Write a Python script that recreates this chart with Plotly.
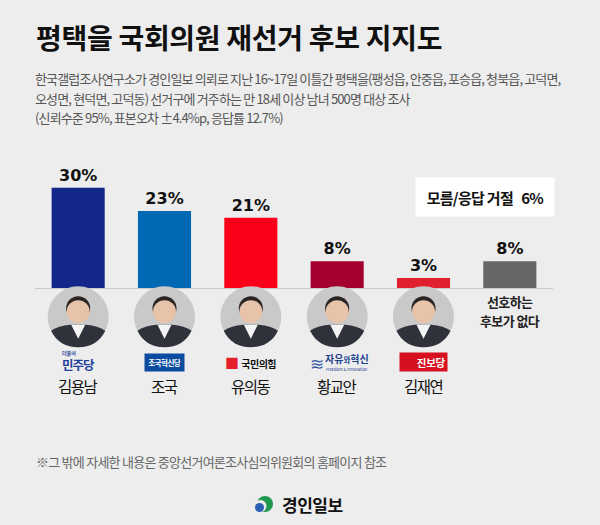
import plotly.graph_objects as go

W, H = 600, 525
MARGIN = dict(l=35, r=47, t=171, b=237, pad=0)
Y_MAX = 35
FONT = 'Noto Sans CJK KR, sans-serif'

# data
candidates = ['김용남', '조국', '유의동', '황교안', '김재연', '선호하는<br>후보가 없다']
parties = ['민주당', '조국혁신당', '국민의힘', '자유와혁신', '진보당']
support = [30, 23, 21, 8, 3, 8]
no_answer = 6  # 모름/응답 거절

bar_colors = ['#13278a', '#0069b4', '#fb0019', '#a3002f', '#e0202f', '#666666']

title = '평택을 국회의원 재선거 후보 지지도'
subtitle = [
    '한국갤럽조사연구소가 경인일보 의뢰로 지난 16~17일 이틀간 평택을(팽성읍, 안중읍, 포승읍, 청북읍, 고덕면,',
    '오성면, 현덕면, 고덕동) 선거구에 거주하는 만 18세 이상 남녀 500명 대상 조사',
    '(신뢰수준 95%, 표본오차 ±4.4%p, 응답률 12.7%)',
]
footnote = '※그 밖에 자세한 내용은 중앙선거여론조사심의위원회의 홈페이지 참조'
source = '경인일보'

x = list(range(len(candidates)))


def paper_x(px):
    return (px - MARGIN['l']) / (W - MARGIN['l'] - MARGIN['r'])


def paper_y(py):
    return (H - MARGIN['b'] - py) / (H - MARGIN['t'] - MARGIN['b'])


def cat_x(i):
    # category centre as a fraction of the plot width
    return (i + 0.5) / len(candidates)


def spaced(text, px):
    return "<span style='letter-spacing:%spx'>%s</span>" % (px, text)


fig = go.Figure()

fig.add_trace(go.Bar(
    x=x, y=support, width=0.615,
    marker=dict(color=bar_colors, line_width=0),
    text=['%d%%' % v for v in support], textposition='outside',
    textfont=dict(family='DejaVu Sans', size=16, color='#111111', weight='bold'),
    cliponaxis=False, hoverinfo='skip'))

ann = []


def label(text, xv, yv, size, color='#111111', xref='x', xanchor='center', **kw):
    d = dict(xref=xref, yref='paper', x=xv, y=yv, text=text, xanchor=xanchor,
             yanchor='middle', showarrow=False, font=dict(size=size, color=color))
    d.update(kw)
    ann.append(d)


# title / subtitle
label('<b>' + spaced(title, -0.3) + '</b>', paper_x(35), paper_y(37), 28,
      xref='paper', xanchor='left', borderpad=0)
for i, line in enumerate(subtitle):
    label(spaced(line, -0.85), paper_x(34), paper_y(78.5 + 19.5 * i), 13, '#555555',
          xref='paper', xanchor='left', borderpad=0)

# no answer box
label('<b>' + spaced('모름/응답 거절\u00a0\u00a0 %d%%' % no_answer, -0.7) + '</b>',
      paper_x(484.8), paper_y(196.7), 15, xref='paper',
      bgcolor='#ffffff', width=138, height=38, borderpad=0)

# candidate names
for i, name in enumerate(candidates):
    if i < len(parties):
        label(spaced(name, -1.5), i, paper_y(385.5), 15.5)
    else:
        for j, part in enumerate(name.split('<br>')):
            label('<b>' + spaced(part, -0.6) + '</b>', i, paper_y(301 + 19 * j), 13, '#222222',
                  borderpad=0)

# party logos
label('<b>' + spaced(parties[0], -1) + '</b>', 0, paper_y(364.5), 12.5, '#1f3f9c')
label('<b>더불어</b>', 0, paper_y(352.5), 5, '#1f3f9c', xshift=-9)
label('<b>' + spaced(parties[1], -0.5) + '</b>', 1, paper_y(362.4), 7.5, '#ffffff',
      bgcolor='#0c4ca0', width=39, height=17, borderpad=0)
label("<span style='color:#e5202b;font-size:14px'>■</span> <b>" + spaced(parties[2], -0.5) + '</b>',
      2, paper_y(361.5), 10)
label('≋', 3, paper_y(362), 17, '#3d5aa6', xshift=-20)
label("<b>자유<span style='font-size:7.5px'>와</span>혁신</b>", 3, paper_y(358), 10, '#1c3f8e',
      xshift=10)
label('Freedom &amp; Innovation', 3, paper_y(369), 4, '#1c3f8e', xshift=10)
label('<b>' + spaced(parties[4], -0.3) + '</b>', 4, paper_y(362), 10.5, '#ffffff',
      bgcolor='#d7101f', width=44, height=15, borderpad=1.5, align='right')

# footnote / source
label(spaced(footnote, -0.75), paper_x(35), paper_y(461.7), 13, '#666666',
      xref='paper', xanchor='left', borderpad=0)
label('<b>' + spaced(source, -0.5) + '</b>', paper_x(312), paper_y(504.5), 17, xref='paper')

shapes = []


def blob(cx, cy, col, r=None, path=None):
    d = dict(xref='paper', yref='paper', xsizemode='pixel', ysizemode='pixel',
             xanchor=cx, yanchor=cy, fillcolor=col, line_width=0)
    if path:
        d.update(type='path', path=path)
    else:
        d.update(type='circle', x0=-r, x1=r, y0=-r, y1=r)
    shapes.append(d)


# candidate photo placeholders
for i in range(len(parties)):
    cx, cy = cat_x(i), paper_y(316.7)
    blob(cx, cy, '#c9c9c9', r=30.5)
    blob(cx, cy, '#2f323b', path='M -27.1,-14 Q -20,-9 -8,-8 L 8,-8 Q 20,-9 27.1,-14 '
                                 'C 22,-25 12,-30.5 0,-30.5 C -12,-30.5 -22,-25 -27.1,-14 Z')
    blob(cx, cy, '#f4f4f4', path='M -7,-8 L 7,-8 L 0,-22 Z')
    blob(cx, cy + 8.5 / 117, '#2a2522', r=12)
    blob(cx, cy + 5 / 117, '#e6c3a9', r=11.5)

# source logo mark
for px, py, r, col in [(265, 504, 8, '#1e9b4f'), (260.5, 506, 6, '#ededed'),
                       (259.5, 507.5, 4.5, '#2b5fb4')]:
    blob(paper_x(px), paper_y(py), col, r=r)

fig.update_layout(
    width=W, height=H, margin=MARGIN,
    paper_bgcolor='#ededed', plot_bgcolor='#ededed',
    font=dict(family=FONT),
    showlegend=False,
    annotations=ann, shapes=shapes,
    xaxis=dict(range=[-0.5, len(candidates) - 0.5], showline=True, linecolor='#c9c9c9',
               linewidth=1, layer='below traces', showgrid=False, zeroline=False,
               showticklabels=False, ticks='', fixedrange=True),
    yaxis=dict(range=[0, Y_MAX], visible=False, fixedrange=True),
)

fig.write_html('out.html', config={'displayModeBar': False},
               post_script="document.body.style.margin='0';document.body.style.overflow='hidden';")
